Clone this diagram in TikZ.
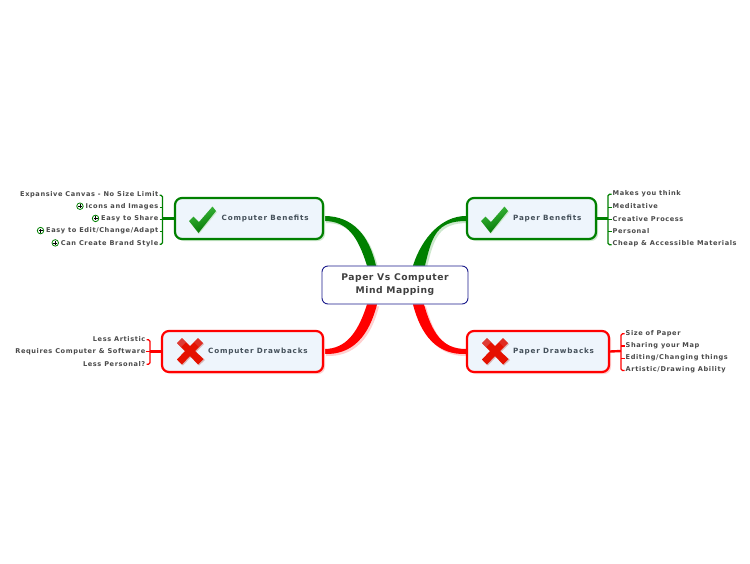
\documentclass[tikz,border=0pt]{standalone}
\usepackage{fontspec}
\setmainfont{DejaVu Sans}
\newfontfamily\kidfont[LetterSpace=9]{DejaVu Sans}
\newfontfamily\boxfont[LetterSpace=11]{DejaVu Sans}
\newfontfamily\rootfont[LetterSpace=5.5]{DejaVu Sans}
\usetikzlibrary{calc,shadows,backgrounds}
\definecolor{gr}{HTML}{008000}
\definecolor{rd}{HTML}{FF0000}
\definecolor{grs}{HTML}{CDE8CD}
\definecolor{rds}{HTML}{FFD0D0}
\definecolor{txc}{HTML}{4A4A4A}
\definecolor{boxtx}{HTML}{44505A}
\definecolor{navy2}{HTML}{1C1C8C}
\definecolor{boxfill}{HTML}{EEF5FC}
\tikzset{
  x=1pt,y=-1pt,
  gbox/.style={draw=gr,line width=2.2pt,rounded corners=7pt,fill=boxfill,inner sep=0,minimum height=41pt,drop shadow={shadow xshift=2pt,shadow yshift=-2pt,fill=grs,opacity=1}},
  rbox/.style={draw=rd,line width=2.2pt,rounded corners=7pt,fill=boxfill,inner sep=0,minimum height=41pt,drop shadow={shadow xshift=2pt,shadow yshift=-2pt,fill=rds,opacity=1}},
  rootbox/.style={draw=navy2,line width=0.9pt,rounded corners=6pt,fill=white,minimum width=146pt,minimum height=38pt,inner sep=0,align=center,font=\rootfont\bfseries\fontsize{9.2}{13}\selectfont,text=black!75},
  boxlabel/.style={font=\boxfont\bfseries\fontsize{7.2}{9}\selectfont,text=boxtx,inner sep=0,anchor=west},
  kid/.style={font=\kidfont\bfseries\fontsize{6.6}{8}\selectfont,text=txc,inner sep=0},
  kidl/.style={kid,anchor=east},
  kidr/.style={kid,anchor=west},
  expander/.style={circle,draw=gr,line width=0.8pt,fill=white,minimum size=6.5pt,inner sep=0},
  brace/.style={line width=1.2pt,rounded corners=1.5pt},
  stem/.style={line width=2.4pt},
}
% tapered branch: colour, box anchor, then for each edge: control by the box, control by the root, end on the root
\newcommand{\branch}[8]{%
  \fill[#1] ($(#2)+(0,-2.5)$) .. controls ($(#2)+#3$) and ($#5+#4$) .. #5
     -- #8 .. controls ($#8+#7$) and ($(#2)+#6$) .. ($(#2)+(0,2.5)$) -- cycle;}
\newcommand{\allbranches}[2]{%
  \branch{#1}{cb.east}{(29,-2.5)}{(-7,-30)}{(rb)}{(24,2.5)}{(-9,-28)}{(ra)}
  \branch{#1}{pb.west}{(-24,-2.5)}{(9,-28)}{(rc)}{(-29,2.5)}{(7,-30)}{(rd)}
  \branch{#2}{cd.east}{(22,-2.5)}{(-9,28)}{(re)}{(29,3.5)}{(-8,31)}{(rf)}
  \branch{#2}{pd.west}{(-24,-2.5)}{(8,28)}{(rh)}{(-29,3.5)}{(8,31)}{(rg)}}
\newcommand{\checkmk}[2]{%
  \begin{scope}[shift={(#1,#2)}]
    \fill[grs] (1,16) -- (10,28) -- (28,6) -- (24,2) -- (10,18) -- (5,12) -- cycle;
    \path[top color=green!65!black!75!white,bottom color=green!45!black,shading angle=20]
      (0,15) -- (9.5,27) -- (27,5) -- (23.5,0.5) -- (10,16) -- (4.5,10.5) -- cycle;
  \end{scope}}
\newcommand{\crossmk}[2]{%
  \begin{scope}[shift={(#1,#2)}]
    \fill[rds!70!gray] (1,6) -- (9,14) -- (1,23) -- (6,27.5) -- (14,19) -- (22,27.5) -- (28,22) -- (19,14) -- (27,6) -- (22,1) -- (14,9) -- (6,1) -- cycle;
    \fill[red!85!orange!90!black] (0,5) -- (8,13) -- (0,21.5) -- (5,26.5) -- (13,18) -- (21,26.5) -- (26.5,21) -- (18,13) -- (26,5) -- (21,0) -- (13,8) -- (5,0) -- cycle;
    \fill[red!55!white!85!black,opacity=.55] (0,5) -- (4,9) -- (9,4) -- (5,0) -- cycle;
    \fill[red!55!white!85!black,opacity=.35] (17,4) -- (22,9) -- (26,5) -- (21,0) -- cycle;
  \end{scope}}
\begin{document}
\begin{tikzpicture}
\useasboundingbox (0,0) rectangle (750,563);
% nodes
\node[rootbox] (root) at (395,285) {Paper Vs Computer\\Mind Mapping};
\node[gbox,minimum width=148pt] (cb) at (249,218.5) {};
\node[gbox,minimum width=129pt] (pb) at (531.5,218.5) {};
\node[rbox,minimum width=161pt] (cd) at (242.5,351.5) {};
\node[rbox,minimum width=142pt] (pd) at (538,351.5) {};
\node[boxlabel] (cbt) at (221.5,219) {Computer Benefits};
\node[boxlabel] (pbt) at (513,219) {Paper Benefits};
\node[boxlabel] (cdt) at (208,351.5) {Computer Drawbacks};
\node[boxlabel] (pdt) at (513,351.5) {Paper Drawbacks};
% wide ends of the branches on the central topic
\coordinate (ra) at ($(root.north)+(-28,0)$); \coordinate (rb) at ($(root.north)+(-19,0)$);
\coordinate (rc) at ($(root.north)+(18,0)$); \coordinate (rd) at ($(root.north)+(30,0)$);
\coordinate (re) at ($(root.south)+(-28,0)$); \coordinate (rf) at ($(root.south)+(-18,0)$);
\coordinate (rg) at ($(root.south)+(18,0)$); \coordinate (rh) at ($(root.south)+(29,0)$);
\begin{pgfonlayer}{background}
  \fill[white] (0,0) rectangle (750,563);
  \begin{scope}[transform canvas={shift={(2pt,-2pt)}}]
    \allbranches{grs}{rds}
  \end{scope}
  \allbranches{gr}{rd}
\end{pgfonlayer}
% icons
\checkmk{189}{206}
\checkmk{481}{206}
\crossmk{177}{338}
\crossmk{482}{338}
% computer benefits children
\node[kidl] (c1) at (158.5,194.2) {Expansive Canvas - No Size Limit};
\node[kidl] (c2) at (158.5,206.5) {Icons and Images};
\node[kidl] (c3) at (158.5,218.7) {Easy to Share};
\node[kidl] (c4) at (158.5,230.9) {Easy to Edit/Change/Adapt};
\node[kidl] (c5) at (158.5,243.2) {Can Create Brand Style};
\foreach \n in {c2,c3,c4,c5}{
  \node[expander] (i\n) at ($(\n.west)+(-5.5,-0.3)$) {};
  \draw[black,line width=0.7pt] ($(i\n)+(-2,0)$) -- ($(i\n)+(2,0)$) ($(i\n)+(0,-2)$) -- ($(i\n)+(0,2)$);
}
\coordinate (cbj) at (163,218.5);
\draw[gr,brace] ($(c1.east)+(1,1)$) -- ++(3,0) |- ($(c5.east)+(1,1)$);
\foreach \n in {c2,c3,c4}{\draw[gr,line width=1.2pt] ($(\n.east)+(1,0.6)$) -- ($(cbj|-\n.east)+(0,0.6)$);}
\draw[gr,stem] (cb.west) -- (cbj);
% paper benefits children
\node[kidr] (p1) at (612.5,194.2) {Makes you think};
\node[kidr] (p2) at (612.5,206.5) {Meditative};
\node[kidr] (p3) at (612.5,218.7) {Creative Process};
\node[kidr] (p4) at (612.5,230.9) {Personal};
\node[kidr] (p5) at (612.5,243.2) {Cheap \& Accessible Materials};
\coordinate (pbj) at (608,218.5);
\draw[gr,brace] ($(p1.west)+(-1,0)$) -- ++(-3.5,0) |- ($(p5.west)+(-1,1.5)$);
\foreach \n in {p2,p3,p4}{\draw[gr,line width=1.2pt] ($(\n.west)+(-1,0.6)$) -- ($(pbj|-\n.west)+(0,0.6)$);}
\draw[gr,stem] (pb.east) -- (pbj);
% computer drawbacks children
\node[kidl] (d1) at (145.5,339.2) {Less Artistic};
\node[kidl] (d2) at (145.5,351.5) {Requires Computer \& Software};
\node[kidl] (d3) at (145.5,363.7) {Less Personal?};
\coordinate (cdj) at (150,351.5);
\draw[rd,brace] ($(d1.east)+(1,0.5)$) -- ++(3.5,0) |- ($(d3.east)+(1,0.5)$);
\draw[rd,line width=1.2pt] (d2.east) -- (cdj);
\draw[rd,stem] (cd.west) -- (cdj);
% paper drawbacks children
\node[kidr] (e1) at (625.5,333.2) {Size of Paper};
\node[kidr] (e2) at (625.5,345.5) {Sharing your Map};
\node[kidr] (e3) at (625.5,357.7) {Editing/Changing things};
\node[kidr] (e4) at (625.5,370) {Artistic/Drawing Ability};
\coordinate (pdj) at (621,351);
\draw[rd,brace] ($(e1.west)+(-1,0.5)$) -- ++(-3.5,0) |- ($(e4.west)+(-1,0.5)$);
\foreach \n in {e2,e3}{\draw[rd,line width=1.2pt] ($(\n.west)+(-1,0.5)$) -- ($(pdj|-\n.west)+(0,0.5)$);}
\draw[rd,stem] (pd.east) -- (pdj);
\end{tikzpicture}
\end{document}
